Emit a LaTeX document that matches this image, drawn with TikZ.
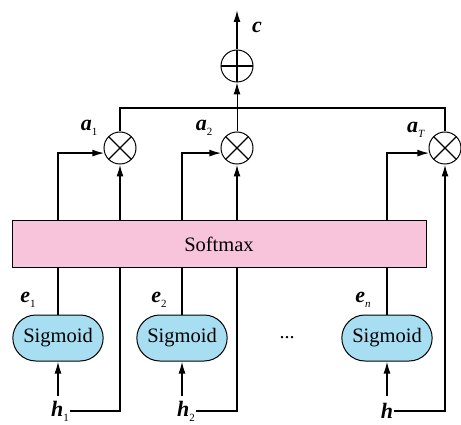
\documentclass[tikz,border=0pt]{standalone}
\usepackage{fontspec}
\setmainfont{Liberation Serif}
\usepackage{tikz}
\usetikzlibrary{shapes.misc, arrows.meta, positioning, calc, backgrounds}
\definecolor{softpink}{RGB}{248, 196, 220}
\definecolor{sigblue}{RGB}{167, 222, 242}
\newcommand{\vlab}[2]{\textbf{\textit{#1}}\raisebox{-0.5ex}{\fontsize{11pt}{11pt}\selectfont #2}}
\tikzset{
    softbox/.style={draw, rectangle, fill=softpink, line width=1pt, minimum width=414pt, minimum height=46pt, font=\fontsize{20.5}{23}\selectfont},
    sigbox/.style={draw, rounded rectangle, fill=sigblue, line width=1pt, minimum width=97pt, minimum height=46pt, font=\fontsize{20.5}{23}\selectfont},
    mulnode/.style={draw, circle, line width=1pt, minimum size=32pt, inner sep=0pt,
        path picture={\draw[line width=1.3pt] (path picture bounding box.north west) -- (path picture bounding box.south east)
                      (path picture bounding box.north east) -- (path picture bounding box.south west);}},
    addnode/.style={draw, circle, line width=1pt, minimum size=32pt, inner sep=0pt,
        path picture={\draw[line width=2pt] (path picture bounding box.north) -- (path picture bounding box.south)
                      (path picture bounding box.west) -- (path picture bounding box.east);}},
    varlabel/.style={font=\fontsize{22}{24}\selectfont, inner sep=1pt},
    conn/.style={line width=1.6pt},
    arr/.style={conn, -{Latex[length=12pt, width=7pt]}},
}
\begin{document}
\begin{tikzpicture}[x=1pt, y=-1pt]
    \useasboundingbox (0,0) rectangle (461,425);
    % blocks
    \node[softbox] (soft) at (219,244) {Softmax};
    \node[sigbox] (sig1) at (58,338) {Sigmoid};
    \node[sigbox] (sig2) at (182,338) {Sigmoid};
    \node[sigbox] (sign) at (387,338) {Sigmoid};
    \node[font=\fontsize{20}{22}\selectfont] (dots) at (287,338) {...};
    \node[mulnode] (mul1) at (120,148) {};
    \node[mulnode] (mul2) at (237,148) {};
    \node[mulnode] (mulT) at (445,148) {};
    \node[addnode] (add) at (237,66) {};
    \coordinate (bus) at (237,108);
    \coordinate (out) at (237,10);
    % labels
    \node[varlabel] (c) at (257,27) {\textbf{\textit{c}}};
    \node[varlabel] (a1) at (89,128) {\vlab{a}{1}};
    \node[varlabel] (a2) at (204,128) {\vlab{a}{2}};
    \node[varlabel] (aT) at (416,130) {\vlab{a}{\textit{T}}};
    \node[varlabel] (e1) at (28,300) {\vlab{e}{1}};
    \node[varlabel] (e2) at (159,300) {\vlab{e}{2}};
    \node[varlabel] (en) at (363,300) {\vlab{e}{\textit{n}}};
    \node[varlabel] (h1) at (60,411) {\vlab{h}{1}};
    \node[varlabel] (h2) at (186,411) {\vlab{h}{2}};
    \node[varlabel] (hn) at (387,411) {\textbf{\textit{h}}};
    % connectors
    \begin{scope}[on background layer]
        \draw[arr] (sig1.north) |- (mul1.198);
        \draw[arr] (sig2.north) |- (mul2.198);
        \draw[arr] (sign.north) |- (mulT.198);
        \draw[arr] (h1.east) -| (mul1.south);
        \draw[arr] (h2.east) -| (mul2.south);
        \draw[arr] (hn.east) -| (mulT.south);
    \end{scope}
    \draw[arr] (sig1.south |- 0,396) -- (sig1.south);
    \draw[arr] (sig2.south |- 0,396) -- (sig2.south);
    \draw[arr] (sign.south |- 0,396) -- (sign.south);
    \draw[conn] (mul1.north) |- (bus) -| (mulT.north);
    \draw[arr, line width=1pt] (mul2.north) -- (add.south);
    \draw[arr] (add.north) -- (out);
\end{tikzpicture}
\end{document}
